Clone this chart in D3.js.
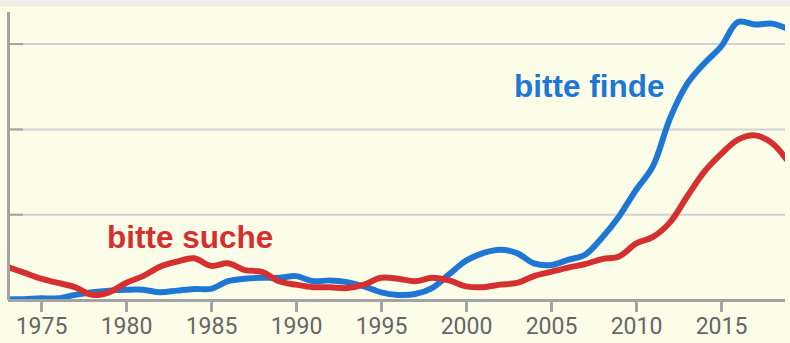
<!DOCTYPE html>
<html>
<head>
<meta charset="utf-8">
<script src="https://cdn.jsdelivr.net/npm/d3@7"></script>
<style>
  html, body { margin: 0; padding: 0; background: #f4f4f0; }
  svg { display: block; }
</style>
</head>
<body>
<svg id="chart" width="790" height="343"></svg>
<script>
// Yearly relative frequency of two German phrases
const years = d3.range(1973, 2020);
const bitteFinde = [
  0.01, 0.01, 0.02, 0.02, 0.06, 0.09, 0.11, 0.12, 0.12, 0.09,
  0.11, 0.13, 0.13, 0.22, 0.25, 0.26, 0.26, 0.28, 0.22, 0.23,
  0.21, 0.16, 0.09, 0.06, 0.07, 0.14, 0.30, 0.46, 0.55, 0.59,
  0.55, 0.43, 0.41, 0.47, 0.53, 0.73, 0.98, 1.29, 1.57, 2.13,
  2.53, 2.77, 2.97, 3.26, 3.23, 3.24, 3.17
];
const bitteSuche = [
  0.39, 0.32, 0.25, 0.20, 0.15, 0.06, 0.09, 0.20, 0.28, 0.39,
  0.45, 0.49, 0.40, 0.43, 0.35, 0.33, 0.22, 0.18, 0.15, 0.15,
  0.14, 0.18, 0.26, 0.25, 0.22, 0.26, 0.23, 0.16, 0.15, 0.18,
  0.20, 0.28, 0.33, 0.38, 0.42, 0.48, 0.51, 0.66, 0.74, 0.91,
  1.21, 1.50, 1.71, 1.88, 1.93, 1.84, 1.61
];
const xTicks = [1975, 1980, 1985, 1990, 1995, 2000, 2005, 2010, 2015];
const yGrid = [1, 2, 3];
const seriesNames = ["bitte finde", "bitte suche"];
const seriesColors = ["#1f77d4", "#d3302f"];

const W = 790, H = 343;
const plot = { left: 8, right: 785, top: 6, bottom: 300 };

const svg = d3.select("#chart");

// card background
svg.append("rect").attr("x", 0).attr("y", 0).attr("width", W).attr("height", 5)
  .attr("fill", "#efefef");
svg.append("rect").attr("x", 0).attr("y", 5).attr("width", W).attr("height", H - 5)
  .attr("fill", "#fcfde9");
svg.append("rect").attr("x", 0).attr("y", 5).attr("width", W).attr("height", 1.5)
  .attr("fill", "#f6f0c4");

const x = d3.scaleLinear().domain([1973, 2019]).range([7, 789]);
const y = d3.scaleLinear().domain([0, 3.5]).range([300, 300 - 3.5 * 85.3]);

// horizontal gridlines
svg.append("g").selectAll("line").data(yGrid).join("line")
  .attr("x1", plot.left).attr("x2", plot.right)
  .attr("y1", d => y(d)).attr("y2", d => y(d))
  .attr("stroke", "#d2d2d2").attr("stroke-width", 2);

// short marks on the left axis at each gridline
svg.append("g").selectAll("line").data(yGrid).join("line")
  .attr("x1", plot.left).attr("x2", 23)
  .attr("y1", d => y(d)).attr("y2", d => y(d))
  .attr("stroke", "#a3a3a3").attr("stroke-width", 2);

// left axis line
svg.append("line")
  .attr("x1", plot.left + 0.5).attr("x2", plot.left + 0.5)
  .attr("y1", 12).attr("y2", plot.bottom)
  .attr("stroke", "#a3a3a3").attr("stroke-width", 3);

// clip lines to plotting area
svg.append("clipPath").attr("id", "plotClip")
  .append("rect").attr("x", plot.left + 2).attr("y", 0)
  .attr("width", plot.right - plot.left - 2).attr("height", plot.bottom);

const line = d3.line()
  .x((d, i) => x(years[i]))
  .y(d => y(d))
  .curve(d3.curveCatmullRom.alpha(0.5));

const lines = svg.append("g").attr("clip-path", "url(#plotClip)");
lines.append("path").datum(bitteFinde)
  .attr("d", line).attr("fill", "none")
  .attr("stroke", seriesColors[0]).attr("stroke-width", 6)
  .attr("stroke-linejoin", "round").attr("stroke-linecap", "round");
lines.append("path").datum(bitteSuche)
  .attr("d", line).attr("fill", "none")
  .attr("stroke", seriesColors[1]).attr("stroke-width", 6)
  .attr("stroke-linejoin", "round").attr("stroke-linecap", "round");

// bottom axis
const xAxis = d3.axisBottom(x).tickValues(xTicks).tickFormat(d3.format("d"))
  .tickSize(12).tickSizeOuter(0).tickPadding(6);
const gx = svg.append("g").attr("transform", `translate(0,${plot.bottom})`).call(xAxis);
gx.select(".domain").remove();
gx.selectAll(".tick line").attr("stroke", "#a3a3a3").attr("stroke-width", 3);
gx.selectAll(".tick text")
  .attr("fill", "#666").attr("font-family", "Roboto, sans-serif")
  .attr("font-size", 23).attr("dy", "0.71em");
svg.append("line")
  .attr("x1", plot.left).attr("x2", plot.right)
  .attr("y1", plot.bottom + 0.5).attr("y2", plot.bottom + 0.5)
  .attr("stroke", "#a3a3a3").attr("stroke-width", 3);

// series labels
const labels = [
  { text: seriesNames[0], color: seriesColors[0], year: 1975 + (514 - 41) / 17, value: (300 - 97) / 85.3 },
  { text: seriesNames[1], color: seriesColors[1], year: 1975 + (107 - 41) / 17, value: (300 - 248) / 85.3 }
];
svg.append("g").selectAll("text").data(labels).join("text")
  .attr("x", d => x(d.year)).attr("y", d => y(d.value))
  .attr("fill", d => d.color)
  .attr("font-family", "'Liberation Sans', Arial, sans-serif")
  .attr("font-weight", "bold").attr("font-size", 31.5)
  .text(d => d.text);
</script>
</body>
</html>
